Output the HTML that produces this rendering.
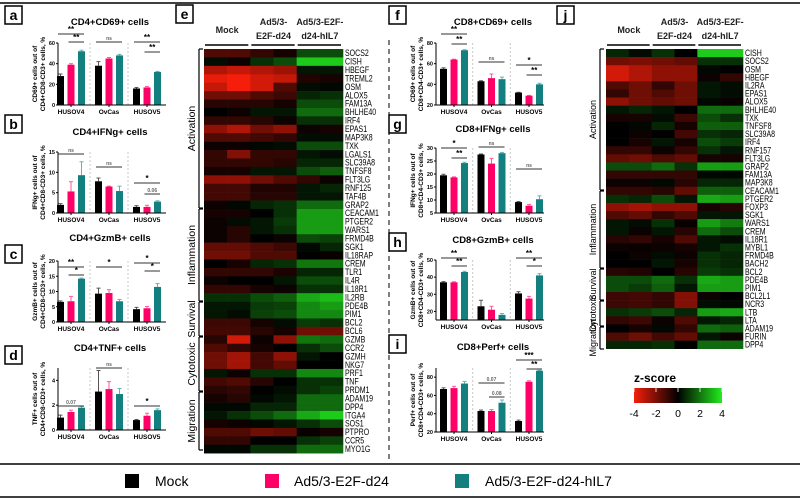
<!DOCTYPE html>
<html><head><meta charset="utf-8"><style>
html,body{margin:0;padding:0;background:#fff}
svg{display:block;font-family:"Liberation Sans",sans-serif}
</style></head><body>
<svg id="fig" width="800" height="499" viewBox="0 0 800 499" xmlns="http://www.w3.org/2000/svg">
<g id="frame">
<line x1="0" y1="3" x2="800" y2="3" stroke="#000" stroke-width="1.5"/>
<line x1="389" y1="40" x2="389" y2="463" stroke="#000" stroke-width="1" stroke-dasharray="5,4"/>
<line x1="0" y1="464" x2="800" y2="464" stroke="#000" stroke-width="1.5"/>
<line x1="0" y1="497" x2="800" y2="497" stroke="#000" stroke-width="1.5"/>
</g>
<g id="legend" font-size="14">
<g><rect x="125" y="474" width="14" height="14" fill="#000"/><text x="155" y="486">Mock</text></g>
<g><rect x="265" y="474" width="14" height="14" fill="#ff0066"/><text x="294" y="486">Ad5/3-E2F-d24</text></g>
<g><rect x="455" y="474" width="14" height="14" fill="#137f7f"/><text x="485" y="486">Ad5/3-E2F-d24-hIL7</text></g>
</g>
</svg>
<script>
// ---------- bar chart data ----------
const groups=["HUSOV4","OvCas","HUSOV5"];
const a_vals=[[28,39,52],[38,45,48],[16,17,32]];
const a_err=[[2,1,1],[4,1,1],[1,1,0.5]];
const b_vals=[[2,5.3,9.3],[7.8,6.5,5.4],[1.5,1.5,2.8]];
const b_err=[[0.3,2.4,3.3],[0.8,0.1,1.2],[0.3,0.4,0.2]];
const c_vals=[[6.6,6.8,14.2],[9.3,9.5,6.8],[4.2,4.5,11.5]];
const c_err=[[0.3,1.6,0.2],[1.8,1.1,0.6],[0.6,0.6,1.1]];
const d_vals=[[1.0,1.45,1.8],[3.1,3.3,2.9],[0.8,1.15,1.6]];
const d_err=[[0.2,0.15,0.1],[1.7,0.6,0.45],[0.05,0.2,0.1]];
const f_vals=[[55,64,73],[43,46,45],[32,29,40]];
const f_err=[[1,0.3,0.5],[0.5,4,2],[0.3,0.3,1]];
const g_vals=[[19.5,18.7,24.2],[27.5,24,28],[9.2,7.8,10.3]];
const g_err=[[0.4,0.2,0.3],[0.2,2,0.3],[0.2,0.5,1.3]];
const h_vals=[[37,37,43],[23,21,18],[30.5,27.5,41]];
const h_err=[[0.4,0.3,0.4],[3.5,2,0.8],[1,1.3,1]];
const i_vals=[[67,68,73],[43,43,52],[32,75,87]];
const i_err=[[1.3,2,2.3],[1,1.5,3],[1,1,0.5]];

// ---------- heatmap data ----------
const e_genes=["SOCS2","CISH","HBEGF","TREML2","OSM","ALOX5","FAM13A","BHLHE40","IRF4","EPAS1","MAP3K8","TXK","LGALS1","SLC39A8","TNFSF8","FLT3LG","RNF125","TAF4B","GRAP2","CEACAM1","PTGER2","WARS1","FRMD4B","SGK1","IL18RAP","CREM","TLR1","IL4R","IL18R1","IL2RB","PDE4B","PIM1","BCL2","BCL6","GZMB","CCR2","GZMH","NKG7","PRF1","TNF","PRDM1","ADAM19","DPP4","ITGA4","SOS1","PTPRO","CCR5","MYO1G"];
const e_z=[[-1.5,-1.5,-1,-0.5,1.5,1.5],[0.3,-0.3,1,1.5,3.5,3.5],[-3,-3.3,-3,-2.7,0.5,0.5],[-3.8,-4,-3.5,-3.3,-0.7,-0.5],[-3.3,-4,-3.5,-1.5,0.3,0.2],[-2,-2,-1.5,-1.2,0.8,1],[-0.8,-0.8,-0.8,-0.5,1.5,1.5],[0,-0.3,0.5,0.5,2,2],[-1,-1,-0.8,-0.3,1,1],[-2.5,-3,-2,-2.5,-0.3,-0.5],[-1.5,-1.5,-1.3,-1,0.3,0.3],[-0.3,-0.3,0.2,0.3,1.5,1.5],[-1,-2.3,-1,-1,0.5,0.3],[-1,-1,-1,-0.8,0.8,0.8],[-0.5,-0.5,0.5,0.5,1.5,1.8],[-2.5,-2.5,-2,-1.5,-1,-0.3],[-1.3,-1.3,-0.7,-0.7,0.5,0.8],[-1.3,-1.3,-0.8,-0.8,0.5,0.5],[-0.3,0.2,0.8,1,2,2],[-0.5,-0.5,0,1,2.8,2.8],[-0.3,0.3,0.5,1.2,2.8,2.8],[-0.3,-0.8,0.5,1,2.8,2.8],[-0.3,-0.8,0,-0.3,1.5,1.3],[-1.8,-1.8,-1.5,-1.2,0.2,0.8],[-2,-2,-1.5,-1.5,0,-0.2],[0,-0.5,0.8,1,2.2,2.2],[-1,-1,-1,-0.6,0.8,0.8],[-0.3,0,0,0.5,1.5,1.5],[-1,-1,-0.5,-0.3,1,1],[1,1,1.5,1.8,3,3.3],[0.5,0.5,1.2,1.3,2.5,2.8],[0.5,0.3,1.3,1.5,2.5,2.5],[-1.2,-1.2,-0.5,0.3,1.2,1],[-1.3,-1.3,-0.8,-0.5,-2,-2],[-0.8,-3.5,-0.3,-2.5,2.2,2],[-1.5,-1,-0.5,0,1,1.5],[-2,-2.8,-1.3,-2.5,0.5,0],[-2,-2.8,-1.3,-1.8,0,0],[0.5,-0.3,1,1,2.5,2.5],[-1.3,-1.5,-0.8,0,1,1],[-0.8,-1,0,0.3,1,1.3],[-0.5,-0.8,0.2,0.5,2,2],[0.2,0.2,0.8,0.8,2,2],[0.5,1,1.5,2,3,3.5],[-0.5,-0.3,0.2,0.5,1,1.5],[-1.5,-1.5,-2,-1.8,-0.2,-0.5],[-1,-1,0,0,1,1.3],[0.2,0.2,1,1,2,2]];
const j_genes=["CISH","SOCS2","OSM","HBEGF","IL2RA","EPAS1","ALOX5","BHLHE40","TXK","TNFSF8","SLC39A8","IRF4","RNF157","FLT3LG","GRAP2","FAM13A","MAP3K8","CEACAM1","PTGER2","FOXP3","SGK1","WARS1","CREM","IL18R1","MYBL1","FRMD4B","BACH2","BCL2","PDE4B","PIM1","BCL2L1","NCR3","LTB","LTA","ADAM19","FURIN","DPP4"];
const j_z=[[0.8,0.3,1,0,3.5,3.5],[-2,-2.2,-2,-1.8,1,1],[-3.5,-3,-2.5,-2.5,0.2,0],[-3.5,-3,-2.5,-2.5,-0.3,-1],[-1.5,-2,-1,-2,0.5,0.3],[-1,-2,-1.5,-2,0.5,0.3],[-2.5,-2,-1.8,-2,0.2,-0.2],[0.5,0.8,0.5,0,2,2],[-0.5,-0.5,0.3,-1.2,1.5,1],[0,0.2,0.8,-0.5,1.8,1.8],[0,-0.3,0,-1.3,1,0.8],[0,-0.5,0.5,-0.5,1.5,1.2],[-1,-1,-0.3,-1,1,0.5],[-1.8,-2,-1.5,-1.8,-0.5,-0.5],[1.5,1.5,2,1,2.8,2.8],[-1,-1,-1,-1,0.2,0.2],[-0.3,-0.3,0.2,-0.8,0.8,0.8],[-1,-1,-0.8,-1.8,1.8,1.8],[1,0.8,1.5,0.5,3,2.8],[-2.5,-2.8,-2.5,-2.5,-0.5,-0.8],[-1.5,-1.8,-1,-1.5,0.5,0.5],[0.5,0.3,1,-0.2,2.8,2.3],[0.5,-0.3,0.5,-0.8,2,1.5],[-0.8,-1,-0.5,-1.5,0.5,0.3],[-0.3,-0.2,-0.3,-0.5,0.5,1],[0,-0.3,0.3,-0.3,1,0.8],[0,0,0.5,-0.5,1,0.8],[-0.8,-0.7,0,-0.8,1.2,1],[1.5,1.5,2,1,3,2.8],[1.5,1.2,1.8,0.5,2.8,2.8],[-1.2,-1.3,-1,-2.3,-0.3,0],[-1.2,-1.3,-1,-2.3,0.3,0.2],[1,1.2,1.5,0.8,2.8,3],[-1,-1.2,-0.3,-1.5,0.5,0.8],[0,-0.5,0.2,-1,2,1.8],[-1.5,-2,-1.3,-1.8,0.5,-0.3],[0.8,0.8,1,0,2,2]];
const zTicks=[-4,-2,0,2,4];

const NS="http://www.w3.org/2000/svg";
const svg=document.getElementById('fig');
function mk(tag,attrs,parent,txt){const e=document.createElementNS(NS,tag);for(const k in attrs)e.setAttribute(k,attrs[k]);if(txt!==undefined)e.textContent=txt;(parent||svg).appendChild(e);return e;}
const COLORS=["#000000","#ff0066","#137f7f"];
const ECOL=["#555","#ff5a9a","#5fb5b5"];

function barPanel(p){
  const g=mk('g',{});
  
  
  const y=v=>p.bottom-(v-p.min)/(p.max-p.min)*(p.bottom-p.top);
  const bx=(gi,bi)=>p.x0+gi*p.gs+bi*10.5;
  const t=mk('text',{x:p.tx,y:p.ty,'font-size':9.5,'font-weight':'bold','text-anchor':'middle'},g,p.title);
  
  
  for(let s=1;s<3;s++){const sx=(bx(s-1,2)+7+bx(s,0))/2;mk('line',{x1:sx,y1:p.top,x2:sx,y2:p.bottom,stroke:'#bbb','stroke-width':0.8,'stroke-dasharray':'2,2'},g);}
  p.vals.forEach((grp,gi)=>grp.forEach((v,bi)=>{
    const x=bx(gi,bi);const yt=y(v);
    const ey=y(v+p.err[gi][bi]);
    mk('line',{x1:x+3.5,y1:yt,x2:x+3.5,y2:ey,stroke:ECOL[bi],'stroke-width':1},g);
    mk('line',{x1:x+1.5,y1:ey,x2:x+5.5,y2:ey,stroke:ECOL[bi],'stroke-width':1},g);
    const r=mk('rect',{x:x,y:yt,width:7,height:p.bottom-yt,fill:COLORS[bi]},g);
    
    
  }));
  mk('line',{x1:p.ax,y1:p.top,x2:p.ax,y2:p.bottom,stroke:'#000','stroke-width':1},g);
  mk('line',{x1:p.ax,y1:p.bottom,x2:p.ax+108,y2:p.bottom,stroke:'#000','stroke-width':1},g);
  p.ticks.forEach(tv=>{const ty=y(tv);mk('line',{x1:p.ax-2,y1:ty,x2:p.ax,y2:ty,stroke:'#000'},g);mk('text',{x:p.ax-3,y:ty+2,'font-size':5.5,'text-anchor':'end','font-weight':'bold'},g,tv);});
  groups.forEach((gn,gi)=>{const cx=bx(gi,1)+3.5;mk('line',{x1:cx,y1:p.bottom,x2:cx,y2:p.bottom+2,stroke:'#000'},g);
    const l=mk('text',{x:cx,y:p.bottom+9,'font-size':6.5,'font-weight':'bold','text-anchor':'middle'},g,gn);
    
    });
  const cy=(p.top+p.bottom)/2;
  const yl=mk('text',{transform:`translate(${p.ax-21},${cy}) rotate(-90)`,'font-size':6.5,'font-weight':'bold','text-anchor':'middle'},g);
  
  
  mk('tspan',{x:0,y:0},yl,p.yl1);mk('tspan',{x:0,y:8},yl,p.yl2);
  p.sig.forEach(s=>{const x1=bx(s[0],s[1])+1,x2=bx(s[0],s[2])+6,sy=p.top+s[3];
    mk('line',{x1:x1,y1:sy,x2:x2,y2:sy,stroke:'#333','stroke-width':1},g);
    mk('text',{x:(x1+x2)/2,y:sy-2,'font-size':s[4].startsWith('*')?8:5,'font-weight':'bold','text-anchor':'middle',fill:s[4].startsWith('*')?'#000':'#666'},g,s[4]);});
}
const L={ax:58,x0:57,gs:38,tx:110};
const R={ax:436,x0:440,gs:37.5,tx:493};
barPanel({...L,id:'a',title:'CD4+CD69+ cells',ty:25,top:43,bottom:105,min:0,max:60,ticks:[0,20,40,60],vals:a_vals,err:a_err,yl1:'CD69+ cells out of',yl2:'CD4+CD8-CD3+ cells, %',sig:[[0,0,2,-9,'**'],[0,1,2,-1,'**'],[1,0,2,-1,'ns'],[2,0,2,-1,'**'],[2,1,2,9,'**']]});
barPanel({...L,id:'b',title:'CD4+IFNg+ cells',ty:135,top:152,bottom:213,min:0,max:15,ticks:[0,5,10,15],vals:b_vals,err:b_err,yl1:'IFNg+ cells out of',yl2:'CD4+CD8-CD3+ cells, %',sig:[[0,0,2,2,'ns'],[1,0,2,15,'ns'],[2,0,2,31,'*'],[2,1,2,42,'0.06']]});
barPanel({...L,id:'c',title:'CD4+GzmB+ cells',ty:241,top:261,bottom:322,min:0,max:20,ticks:[0,5,10,15,20],vals:c_vals,err:c_err,yl1:'GzmB+ cells out of',yl2:'CD4+CD8-CD3+ cells, %',sig:[[0,0,2,6,'**'],[0,1,2,14,'*'],[1,0,2,6,'*'],[2,0,2,2,'*'],[2,1,2,10,'*']]});
barPanel({...L,id:'d',title:'CD4+TNF+ cells',ty:351,top:368,bottom:430,min:0,max:5,ticks:[0,2,4],vals:d_vals,err:d_err,yl1:'TNF+ cells out of',yl2:'CD4+CD8-CD3+ cells, %',sig:[[0,0,2,38,'0.07'],[1,0,2,0,'ns'],[2,0,2,38,'*']]});
barPanel({...R,id:'f',title:'CD8+CD69+ cells',ty:25,top:43,bottom:105,min:20,max:80,ticks:[20,40,60,80],vals:f_vals,err:f_err,yl1:'CD69+ cells out of',yl2:'CD8+CD4-CD3+ cells, %',sig:[[0,0,2,-9,'**'],[0,1,2,1,'**'],[1,0,2,19,'ns'],[2,0,2,22,'*'],[2,1,2,32,'**']]});
barPanel({...R,id:'g',title:'CD8+IFNg+ cells',ty:132,top:148,bottom:213,min:5,max:30,ticks:[5,10,15,20,25,30],vals:g_vals,err:g_err,yl1:'IFNg+ cells out of',yl2:'CD8+CD4-CD3+ cells, %',sig:[[0,0,2,0,'*'],[0,1,2,10,'**'],[1,0,2,-1,'ns'],[2,0,2,21,'ns']]});
barPanel({...R,id:'h',title:'CD8+GzmB+ cells',ty:243,top:260,bottom:320,min:15,max:50,ticks:[20,30,40,50],vals:h_vals,err:h_err,yl1:'GzmB+ cells out of',yl2:'CD8+CD4-CD3+ cells, %',sig:[[0,0,2,-2,'**'],[0,1,2,6,'**'],[2,0,2,-2,'**'],[2,1,2,6,'*']]});
barPanel({...R,id:'i',title:'CD8+Perf+ cells',ty:350,top:368,bottom:432,min:20,max:90,ticks:[20,40,60,80],vals:i_vals,err:i_err,yl1:'Perf+ cells out of',yl2:'CD8+CD4-CD3+ cells, %',sig:[[1,0,2,15,'0.07'],[1,1,2,29,'0.08'],[2,0,2,-8,'***'],[2,1,2,1,'**']]});

[['a',5,6],['b',5,115],['c',5,245],['d',5,346],['e',176,5],['f',389,6],['g',389,115],['h',389,233],['i',389,335],['j',557,6]].forEach(b=>{
  const g=mk('g',{});
  
  
  mk('rect',{x:b[1],y:b[2],width:17,height:18,fill:'#fff',stroke:'#000','stroke-width':1.5},g);
  mk('text',{x:b[1]+8.5,y:b[2]+14,'font-size':14,'font-weight':'bold','text-anchor':'middle'},g,b[0]);
});

function zcol(z){
  const f=Math.pow(Math.min(1,Math.abs(z)/4),1.15);
  if(z<0)return `rgb(${Math.round(245*f)},${Math.round(30*f)},${Math.round(10*f)})`;
  return `rgb(${Math.round(35*f)},${Math.round(235*f)},${Math.round(30*f)})`;
}
function heatmap(h){
  const g=mk('g',{});
  
  
  const cw=(h.x1-h.x0)/6;
  h.z.forEach((row,ri)=>row.forEach((v,ci)=>{
    const r=mk('rect',{x:h.x0+ci*cw,y:h.y0+ri*h.rh,width:cw+0.3,height:h.rh+0.3,fill:zcol(v)},g);
    
    
  }));
  h.genes.forEach((gn,ri)=>{
    const t=mk('text',{transform:`translate(${h.x1+2},${h.y0+(ri+0.5)*h.rh+3}) scale(0.78,1)`,'font-size':9},g,gn);
    
    
  });
  const hd=[[['Mock'],0],[['Ad5/3-','E2F-d24'],1],[['Ad5/3-E2F-','d24-hIL7'],2]];
  hd.forEach(([lines,k])=>{
    const cx=h.x0+(k*2+1)*cw;
    const tg=mk('text',{'font-size':9,'font-weight':'bold','text-anchor':'middle',fill:'#222'},g);
    
    
    if(lines.length===1)mk('tspan',{x:cx,y:33},tg,lines[0]);
    else{mk('tspan',{x:cx,y:25},tg,lines[0]);mk('tspan',{x:cx,y:39},tg,lines[1]);}
    mk('line',{x1:h.x0+k*2*cw+1,y1:45,x2:h.x0+(k*2+2)*cw-2,y2:45,stroke:'#000','stroke-width':1.6},g);
  });
  h.cats.forEach(c=>{
    mk('line',{x1:h.bx,y1:c[1],x2:h.bx,y2:c[2],stroke:'#000','stroke-width':1.2},g);
    mk('line',{x1:h.bx,y1:c[1],x2:h.bx+4,y2:c[1],stroke:'#000','stroke-width':1.2},g);
    mk('line',{x1:h.bx,y1:c[2],x2:h.bx+4,y2:c[2],stroke:'#000','stroke-width':1.2},g);
    const t=mk('text',{transform:`translate(${h.bx-4},${(c[1]+c[2])/2}) rotate(-90)`,'font-size':h.fs,'text-anchor':'middle'},g,c[0]);
    
    
  });
}
heatmap({id:'e',x0:204,x1:343,y0:49,rh:8.42,z:e_z,genes:e_genes,bx:199,fs:10.5,
  cats:[['Activation',49,208],['Inflammation',209,301],['Survival',302,336],['Cytotoxic',337,391],['Migration',392,450]]});
heatmap({id:'j',x0:606,x1:743,y0:49,rh:8.1,z:j_z,genes:j_genes,bx:600,fs:9,
  cats:[['Activation',49,190],['Inflammation',191,268],['Survival',269,300],['Cytotoxic',301,326],['Migration',327,349]]});

// colorbar
const cb=mk('g',{});


const defs=mk('defs',{},cb);
const lg=mk('linearGradient',{id:'zg',x1:0,x2:1,y1:0,y2:0},defs);
mk('stop',{'offset':'0','stop-color':zcol(-4)},lg);
mk('stop',{'offset':'0.5','stop-color':'#000'},lg);
mk('stop',{'offset':'1','stop-color':zcol(4)},lg);
const cbx0=634,cbx1=722;
mk('rect',{x:cbx0,y:388,width:cbx1-cbx0,height:15,fill:'url(#zg)'},cb);
const ct=mk('text',{x:634,y:382,'font-size':12,'font-weight':'bold'},cb,'z-score');


const zx=v=>cbx0+(v+4)/8*(cbx1-cbx0);
zTicks.forEach(v=>{
  mk('line',{x1:zx(v),y1:388,x2:zx(v),y2:392,stroke:'#fff','stroke-width':0.8},cb);
  mk('text',{x:zx(v),y:417,'font-size':10.5,'text-anchor':'middle'},cb,v<0?'-'+Math.abs(v):String(v));
});
</script>
</body></html>
